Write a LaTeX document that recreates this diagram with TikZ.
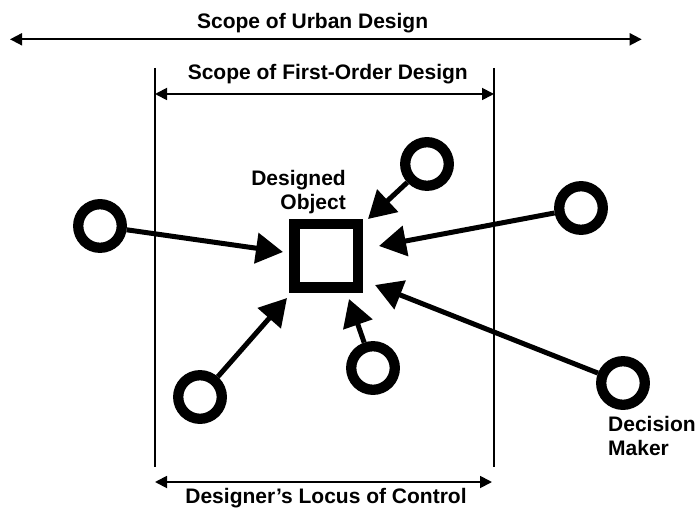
\documentclass[tikz,border=0pt]{standalone}
\usepackage{fontspec}
\setmainfont{Liberation Sans}
\usetikzlibrary{arrows.meta}

\begin{document}
\begin{tikzpicture}[x=1bp,y=-1bp,line join=miter,
	ring/.style={circle,draw,line width=10.3bp,minimum size=43.6bp,inner sep=0pt},
	objbox/.style={rectangle,draw,line width=10.5bp,minimum size=63.5bp,inner sep=0pt},
	push/.style={line width=5bp,-{Triangle[length=27bp,width=30bp]}},
	span/.style={line width=1.8bp,{Triangle[length=12bp,width=12bp]}-{Triangle[length=12bp,width=12bp]}},
	lbl/.style={font=\fontsize{21bp}{24bp}\selectfont\bfseries,inner sep=0pt}]
	\useasboundingbox (0,0) rectangle (700,509);
	\coordinate (uL) at (10,39.3);
	\coordinate (uR) at (641.7,39.3);
	\coordinate (fL) at (155,94);
	\coordinate (fR) at (494,94);
	\coordinate (lL) at (155,482);
	\coordinate (lR) at (492,482);
	\coordinate (topL) at (155,68);
	\coordinate (botL) at (155,467);
	\coordinate (topR) at (494,68);
	\coordinate (botR) at (494,467);

	%scopes
	\node[lbl,anchor=base] (urban) at (312.6,28.3) {Scope of Urban Design};
	\draw[span] (uL) -- (uR);
	\node[lbl,anchor=base] (first) at (327.8,80) {Scope of First-Order Design};
	\draw[span] (fL) -- (fR);
	\draw[line width=1.3bp] (topL) -- (botL);
	\draw[line width=1.3bp] (topR) -- (botR);
	\draw[span] (lL) -- (lR);
	\node[lbl,anchor=base] (locus) at (326,503.3) {Designer's Locus of Control};

	%designed object
	\node[objbox] (obj) at (326.3,255.8) {};
	\node[lbl,anchor=north east,align=right] (objtxt) at (346,170) {Designed\\Object};

	%decision makers
	\node[ring] (dm1) at (100,226) {};
	\node[ring] (dm2) at (427,164) {};
	\node[ring] (dm3) at (581,208) {};
	\node[ring] (dm4) at (200,397) {};
	\node[ring] (dm5) at (373,368) {};
	\node[ring] (dm6) at (623,383) {};
	\node[lbl,anchor=north west,align=left] (dmtxt) at (608,416.5) {Decision\\Maker};

	\coordinate (t1) at (283,252);
	\coordinate (t2) at (368,219);
	\coordinate (t3) at (379,246);
	\coordinate (t4) at (287,298);
	\coordinate (t5) at (349,299);
	\coordinate (t6) at (375,285);
	\draw[push] (dm1) -- (t1);
	\draw[push] (dm2) -- (t2);
	\draw[push] (dm3) -- (t3);
	\draw[push] (dm4) -- (t4);
	\draw[push] (dm5) -- (t5);
	\draw[push] (dm6) -- (t6);
\end{tikzpicture}
\end{document}
